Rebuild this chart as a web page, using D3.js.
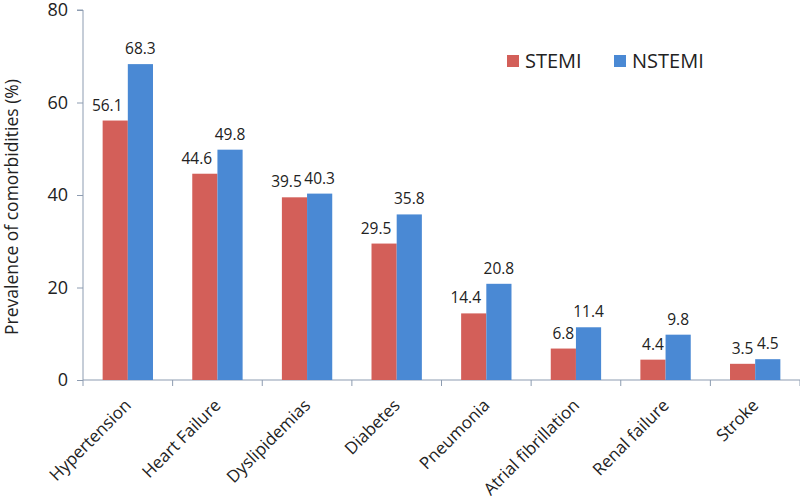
<!DOCTYPE html>
<html><head><meta charset="utf-8">
<script src="https://cdn.jsdelivr.net/npm/d3@7"></script>
<style>
body{margin:0;background:#fff;}
svg{display:block;font-family:"Open Sans",sans-serif;}
</style></head>
<body><svg id="c" width="800" height="502"></svg>
<script>
const categories = ["Hypertension","Heart Failure","Dyslipidemias","Diabetes","Pneumonia","Atrial fibrillation","Renal failure","Stroke"];
const series = ["STEMI","NSTEMI"];
const stemi = [56.1,44.6,39.5,29.5,14.4,6.8,4.4,3.5];
const nstemi = [68.3,49.8,40.3,35.8,20.8,11.4,9.8,4.5];
const yTicks = [0,20,40,60,80];
const colors = ["#d35f59","#4a89d4"];
const yTitle = "Prevalence of comorbidities (%)";

const svg = d3.select("#c");
const L=83, R=800, T=10, B=380;
const x = d3.scaleBand().domain(categories).range([L,R]).paddingInner(0).paddingOuter(0);
const xs = d3.scaleBand().domain(series).range([0,x.bandwidth()]).paddingInner(0).paddingOuter(0.78);
const y = d3.scaleLinear().domain([0,80]).range([B,T]);
const axisColor="#8d9cb1";

// y axis
const ya = svg.append("g").attr("transform",`translate(${L},0)`)
  .call(d3.axisLeft(y).tickValues(yTicks).tickSize(6).tickPadding(9));
ya.select(".domain").attr("stroke",axisColor).attr("d",`M-6,${T}H0V${B}`);
ya.selectAll(".tick line").attr("stroke",axisColor);
ya.selectAll(".tick text").attr("font-size","18px").attr("fill","#222").attr("font-family","Open Sans");

// x axis
svg.append("line").attr("x1",L).attr("x2",R).attr("y1",B).attr("y2",B).attr("stroke",axisColor);
const bounds = categories.map(c=>x(c)).concat([R]);
svg.selectAll(".xt").data(bounds).enter().append("line")
  .attr("x1",d=>d).attr("x2",d=>d).attr("y1",B).attr("y2",B+6).attr("stroke",axisColor);

// bars
const rows = categories.map((c,i)=>({c, vals:[stemi[i],nstemi[i]]}));
const g = svg.selectAll(".cat").data(rows).enter().append("g").attr("transform",d=>`translate(${x(d.c)},0)`);
g.selectAll("rect").data(d=>d.vals.map((v,j)=>({s:series[j],v,j}))).enter().append("rect")
  .attr("x",d=>xs(d.s)).attr("width",xs.bandwidth()).attr("y",d=>y(d.v)).attr("height",d=>B-y(d.v))
  .attr("fill",d=>colors[d.j]);
// labels: wide first-series labels are nudged left to avoid the neighbour label
g.selectAll("text").data(d=>d.vals.map((v,j)=>({s:series[j],v,j}))).enter().append("text")
  .attr("x",d=>{
    const t=d.v.toFixed(1);
    const nudge = (d.j===0 && t.length>3) ? -8 : 0;
    return xs(d.s)+xs.bandwidth()/2+nudge;
  })
  .attr("y",d=>y(d.v)-10)
  .attr("text-anchor","middle").attr("font-size","15.5px").attr("fill","#222")
  .text(d=>d.v.toFixed(1));

// category labels
svg.selectAll(".cl").data(categories).enter().append("text")
  .attr("transform",d=>`translate(${x(d)+x.bandwidth()/2-4},${B+18}) rotate(-45)`)
  .attr("text-anchor","end").attr("dy","0.7em").attr("font-size","17px").attr("fill","#222").text(d=>d);

// y title
svg.append("text").attr("transform",`translate(18,207) rotate(-90)`).attr("text-anchor","middle")
  .attr("font-size","17.5px").attr("fill","#222").text(yTitle);

// legend
const lg = [{s:"STEMI",x:507},{s:"NSTEMI",x:614}];
lg.forEach((d,i)=>{
  svg.append("rect").attr("x",d.x).attr("y",55).attr("width",12).attr("height",12).attr("fill",colors[i]);
  svg.append("text").attr("x",d.x+18).attr("y",68).attr("font-size","20px").attr("fill","#222").text(d.s);
});
</script></body></html>
